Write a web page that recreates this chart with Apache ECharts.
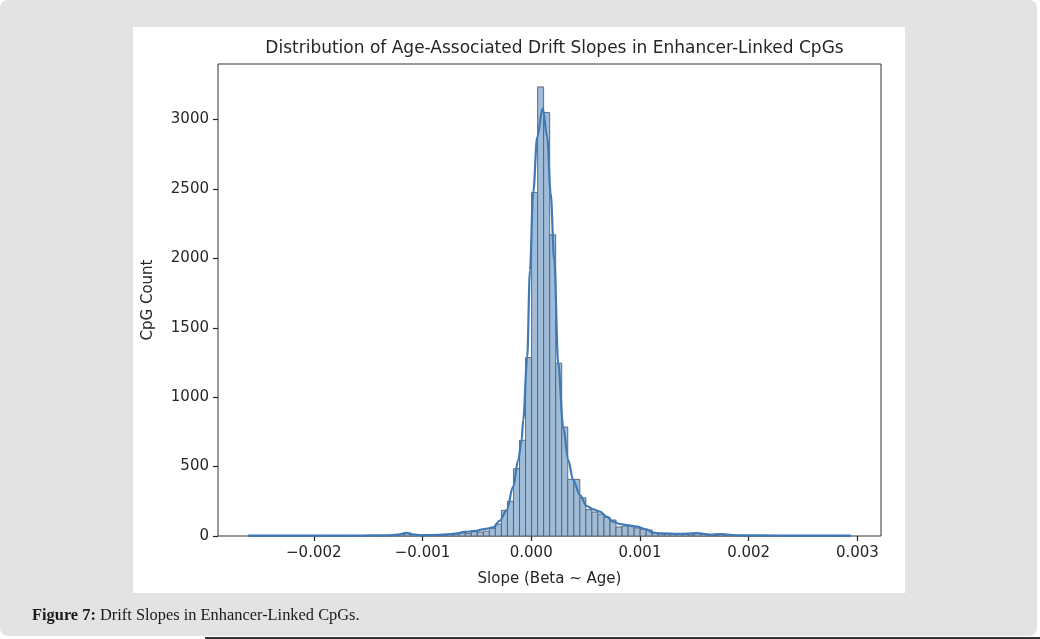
<!DOCTYPE html>
<html>
<head>
<meta charset="utf-8">
<script src="https://cdn.jsdelivr.net/npm/echarts@6/dist/echarts.min.js"></script>
<style>
  html, body { margin: 0; padding: 0; background: #ffffff; }
  #page { position: relative; width: 1040px; height: 639px; overflow: hidden; }
  #frame { position: absolute; left: 0; top: 0; width: 1037px; height: 636px; background: #e3e3e3; border-radius: 8px; }
  #panel { position: absolute; left: 133px; top: 27px; width: 772px; height: 566px; background: #ffffff; }
  #rule { position: absolute; left: 205px; top: 637px; width: 835px; height: 2px; background: #333; }
  #chart { position: absolute; left: 0; top: 0; width: 1040px; height: 639px; }
</style>
</head>
<body>
<div id="page">
  <div id="frame"></div>
  <div id="panel"></div>
  <div id="rule"></div>
  <div id="chart"></div>
</div>
<script>
// histogram: 100 equal bins starting at binStart
const binStart = -0.002604
const binWidth = 0.00005547
const counts = [
  1, 2, 1, 2, 2, 3, 2, 1, 2, 3,
  3, 2, 4, 3, 2, 3, 4, 3, 3, 4,
  5, 4, 3, 5, 6, 10, 22, 12, 6, 8,
  7, 9, 10, 12, 20, 24, 19, 40, 28, 35,
  55, 86, 185, 250, 485, 690, 1285, 2475, 3235, 3050,
  2170, 1245, 785, 408, 408, 275, 190, 172, 157, 135,
  115, 65, 72, 72, 58, 48, 43, 22, 16, 14,
  14, 12, 12, 8, 18, 14, 6, 5, 12, 8,
  6, 4, 3, 3, 2, 2, 3, 2, 2, 1,
  2, 1, 1, 2, 1, 1, 1, 0, 1, 1
]

// kde curve (slope, count)
const kdeX = [
  -0.002606, -0.00231, -0.00194, -0.00158, -0.0013, -0.00121, -0.00115, -0.0011, -0.00102, -0.00084,
  -0.0007, -0.00061, -0.00052, -0.00043, -0.00035, -0.00029, -0.000226, -0.000166, -0.00012, -0.000088,
  -0.000074, -0.000037, -0.000012, 0.000018, 0.000055, 0.000105, 0.000147, 0.000178, 0.000212, 0.000248,
  0.000294, 0.00034, 0.000386, 0.000448, 0.00051, 0.00057, 0.000632, 0.000694, 0.000754, 0.000816,
  0.000878, 0.00097, 0.00106, 0.001122, 0.001184, 0.001368, 0.001524, 0.001644, 0.001736, 0.00192,
  0.002288, 0.002656, 0.00294
]
const kdeY = [
  2, 2, 3, 3, 5, 12, 22, 12, 6, 8,
  15, 30, 35, 50, 62, 110, 187, 355, 547, 690,
  835, 1285, 1914, 2474, 2873, 3081, 2873, 2474, 1985, 1245,
  786, 547, 403, 295, 216, 192, 175, 139, 103, 86,
  79, 67, 48, 24, 19, 15, 20, 10, 13, 5,
  3, 2, 2
]

const xTicks = [-0.002, -0.001, 0, 0.001, 0.002, 0.003]
const yTicks = [0, 500, 1000, 1500, 2000, 2500, 3000]

const xMin = -0.002881
const xMax = 0.003217
const yMax = 3400

const font = 'DejaVu Sans'
const ink = '#262626'

const histData = counts.map((c, i) => [binStart + i * binWidth, binStart + (i + 1) * binWidth, c])
const kdeData = kdeX.map((x, i) => [x, kdeY[i]])

const chart = echarts.init(document.getElementById('chart'), null, { renderer: 'canvas' })

chart.setOption({
  animation: false,
  title: {
    text: 'Distribution of Age-Associated Drift Slopes in Enhancer-Linked CpGs',
    left: 549.5,
    textAlign: 'center',
    top: 35,
    textStyle: { fontFamily: font, fontSize: 17, fontWeight: 'normal', color: ink },
  },
  grid: {
    left: 218, right: 159, top: 64, bottom: 103,
    show: true, borderColor: '#333', borderWidth: 1, backgroundColor: 'transparent',
  },
  xAxis: {
    type: 'value',
    min: xMin,
    max: xMax,
    name: 'Slope (Beta ~ Age)',
    nameLocation: 'middle',
    nameGap: 36,
    nameTextStyle: { fontFamily: font, fontSize: 15, color: ink },
    splitLine: { show: false },
    axisLine: { show: false, onZero: false },
    axisTick: { show: true, length: 5, customValues: xTicks, lineStyle: { color: '#222', width: 1.2 } },
    axisLabel: {
      customValues: xTicks,
      margin: 10,
      fontFamily: font, fontSize: 15, color: ink,
      formatter: v => v.toFixed(3).replace('-', '\u2212'),
    },
  },
  yAxis: {
    type: 'value',
    min: 0,
    max: yMax,
    name: 'CpG Count',
    nameLocation: 'middle',
    nameGap: 62,
    nameTextStyle: { fontFamily: font, fontSize: 15, color: ink },
    splitLine: { show: false },
    axisLine: { show: false, onZero: false },
    axisTick: { show: true, length: 5, customValues: yTicks, lineStyle: { color: '#222', width: 1.2 } },
    axisLabel: {
      customValues: yTicks, margin: 9, fontFamily: font, fontSize: 15, color: ink,
      formatter: v => String(v),
    },
  },
  series: [
    {
      type: 'custom',
      data: histData,
      encode: { x: [0, 1], y: 2 },
      renderItem: (params, api) => {
        const top = api.coord([api.value(0), api.value(2)])
        const bot = api.coord([api.value(1), 0])
        return {
          type: 'rect',
          shape: { x: top[0], y: top[1], width: bot[0] - top[0], height: bot[1] - top[1] },
          style: { fill: '#9fbcd8', stroke: '#56606b', lineWidth: 0.9 },
        }
      },
    },
    {
      type: 'line',
      data: kdeData,
      smooth: 0.35,
      smoothMonotone: 'x',
      showSymbol: false,
      lineStyle: { color: '#3f79b8', width: 2.2 },
      z: 3,
    },
  ],
  graphic: [
    {
      type: 'text',
      left: 32,
      top: 608,
      style: {
        text: '{b|Figure 7:} Drift Slopes in Enhancer-Linked CpGs.',
        fontFamily: 'Liberation Serif',
        fontSize: 16.4,
        fill: '#1a1a1a',
        rich: { b: { fontFamily: 'Liberation Serif', fontSize: 16.4, fontWeight: 'bold', fill: '#1a1a1a' } },
      },
    },
  ],
})
</script>
</body>
</html>
